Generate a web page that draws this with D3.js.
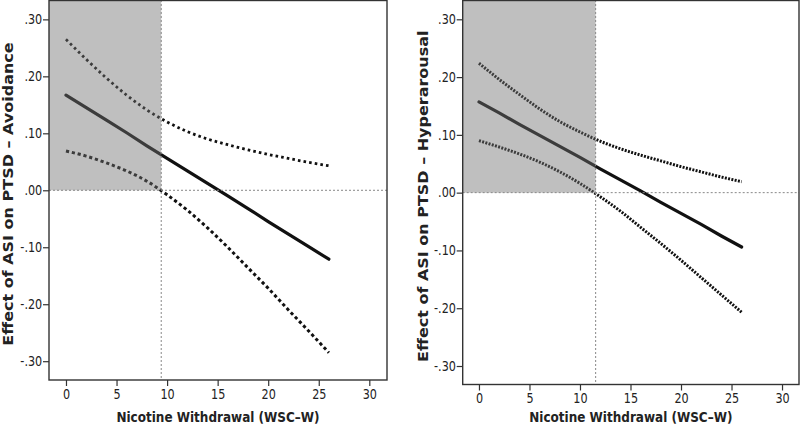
<!DOCTYPE html>
<html><head><meta charset="utf-8">
<script src="https://cdn.jsdelivr.net/npm/d3@7"></script>
<style>html,body{margin:0;padding:0;background:#fff;}svg{display:block;}</style>
</head><body>
<svg id="chart" width="800" height="425"></svg>
<script>
// ---- data ----
const xValues = [0, 2, 4, 6, 8, 10, 12, 14, 16, 18, 20, 22, 24, 26];
const avoidEstimate = [0.167, 0.145, 0.123, 0.101, 0.078, 0.056, 0.034, 0.012, -0.010, -0.032, -0.055, -0.077, -0.099, -0.121];
const avoidUpper    = [0.265, 0.230, 0.197, 0.167, 0.141, 0.120, 0.103, 0.090, 0.080, 0.071, 0.063, 0.056, 0.049, 0.043];
const avoidLower    = [0.069, 0.060, 0.048, 0.034, 0.016, -0.008, -0.035, -0.066, -0.100, -0.136, -0.172, -0.210, -0.247, -0.285];
const hyperEstimate = [0.157, 0.138, 0.118, 0.099, 0.080, 0.061, 0.041, 0.022, 0.003, -0.017, -0.036, -0.055, -0.075, -0.094];
const hyperUpper    = [0.224, 0.196, 0.170, 0.145, 0.123, 0.105, 0.089, 0.076, 0.065, 0.055, 0.045, 0.036, 0.027, 0.019];
const hyperLower    = [0.090, 0.079, 0.067, 0.053, 0.036, 0.016, -0.007, -0.032, -0.060, -0.088, -0.117, -0.147, -0.177, -0.207];
const avoidCutoff = 9.42;
const hyperCutoff = 11.55;
const xTicks = [0, 5, 10, 15, 20, 25, 30];
const xTickLabels = ["0", "5", "10", "15", "20", "25", "30"];
const yTicks = [0.3, 0.2, 0.1, 0, -0.1, -0.2, -0.3];
const yTickLabels = [".30", ".20", ".10", ".00", "-.10", "-.20", "-.30"];
const xTitle = "Nicotine Withdrawal (WSC\u2013W)";
const yTitles = ["Effect of ASI on PTSD \u2013 Avoidance", "Effect of ASI on PTSD \u2013 Hyperarousal"];

// ---- layout ----
const SX = 0.83; // horizontal squeeze of the original figure
const FONT = "'DejaVu Sans', Verdana, sans-serif";
const panels = [
  {x0: 49, x1: 387, y1: 380, xDom: [-1.68, 31.75], yDom: [-0.333, 0.334],
   est: avoidEstimate, up: avoidUpper, lo: avoidLower, cut: avoidCutoff, title: yTitles[0],
   titleX: 13, titleY: 421.5, dashUp: "2.6,3.1", dashLo: "3.2,2.8", wUp: 2.8, wLo: 3},
  {x0: 462.7, x1: 799, y1: 384.5, xDom: [-1.61, 31.68], yDom: [-0.332, 0.3334],
   est: hyperEstimate, up: hyperUpper, lo: hyperLower, cut: hyperCutoff, title: yTitles[1],
   titleX: 427.5, titleY: 421.5, dashUp: "2,1.35", dashLo: "2,1.35", wUp: 3, wLo: 3}
];

const svg = d3.select("#chart");

panels.forEach(p => {
  const x = d3.scaleLinear().domain(p.xDom).range([p.x0, p.x1]);
  const y = d3.scaleLinear().domain(p.yDom).range([p.y1, 0]);
  const g = svg.append("g");

  // CI lines and estimate
  const line = d3.line().x((d, i) => x(xValues[i])).y(d => y(d)).curve(d3.curveMonotoneX);
  g.append("path").datum(p.up).attr("d", line).attr("fill", "none")
    .attr("stroke", "#111").attr("stroke-width", p.wUp).attr("stroke-dasharray", p.dashUp);
  g.append("path").datum(p.lo).attr("d", line).attr("fill", "none")
    .attr("stroke", "#111").attr("stroke-width", p.wLo).attr("stroke-dasharray", p.dashLo);
  g.append("path").datum(p.est).attr("d", d3.line().x((d, i) => x(xValues[i])).y(d => y(d)))
    .attr("fill", "none").attr("stroke", "#111").attr("stroke-width", 3.2).attr("stroke-linecap", "round");

  // shaded region (semi-transparent overlay) from left edge to cutoff, above zero
  g.append("rect")
    .attr("x", p.x0).attr("y", 0)
    .attr("width", x(p.cut) - p.x0).attr("height", y(0))
    .attr("fill", "rgb(113,113,113)").attr("fill-opacity", 0.45);

  // reference lines
  g.append("line").attr("x1", p.x0).attr("x2", p.x1).attr("y1", y(0)).attr("y2", y(0))
    .attr("stroke", "#888").attr("stroke-width", 1).attr("stroke-dasharray", "2,2");
  g.append("line").attr("x1", x(p.cut)).attr("x2", x(p.cut)).attr("y1", 0).attr("y2", p.y1)
    .attr("stroke", "#888").attr("stroke-width", 1).attr("stroke-dasharray", "2,2");

  // frame
  g.append("rect").attr("x", p.x0).attr("y", 0.5).attr("width", p.x1 - p.x0).attr("height", p.y1 - 0.5)
    .attr("fill", "none").attr("stroke", "#333").attr("stroke-width", 1.4);

  // y axis
  const ya = g.append("g").attr("transform", `translate(${p.x0},0)`)
    .call(d3.axisLeft(y).tickValues(yTicks).tickFormat((d, i) => yTickLabels[i]).tickSize(6).tickSizeOuter(0));
  ya.select(".domain").remove();
  ya.selectAll(".tick line").attr("stroke", "#333").attr("stroke-width", 1.2);
  ya.selectAll(".tick text").attr("font-family", FONT).attr("font-size", 13.5).attr("fill", "#222")
    .attr("x", -6.8 / SX).attr("transform", `scale(${SX},1)`);

  // x axis
  const xa = g.append("g").attr("transform", `translate(0,${p.y1})`)
    .call(d3.axisBottom(x).tickValues(xTicks).tickFormat((d, i) => xTickLabels[i]).tickSize(6).tickSizeOuter(0));
  xa.select(".domain").remove();
  xa.selectAll(".tick line").attr("stroke", "#333").attr("stroke-width", 1.2);
  xa.selectAll(".tick text").attr("font-family", FONT).attr("font-size", 13.5).attr("fill", "#222")
    .attr("y", 18.9).attr("dy", 0).attr("transform", `scale(${SX},1)`).attr("x", 0);

  // axis titles
  svg.append("text")
    .attr("transform", `translate(${(p.x0 + p.x1) / 2},${p.titleY}) scale(${SX},1)`)
    .attr("text-anchor", "middle").attr("font-family", FONT).attr("font-weight", "bold")
    .attr("font-size", 14.5).attr("fill", "#222").text(xTitle);
  svg.append("text")
    .attr("transform", `translate(${p.titleX},${p.y1 / 2 + 4}) scale(${SX},1) rotate(-90)`)
    .attr("text-anchor", "middle").attr("font-family", FONT).attr("font-weight", "bold")
    .attr("font-size", 16).attr("fill", "#222").text(p.title);
});
</script>
</body></html>
